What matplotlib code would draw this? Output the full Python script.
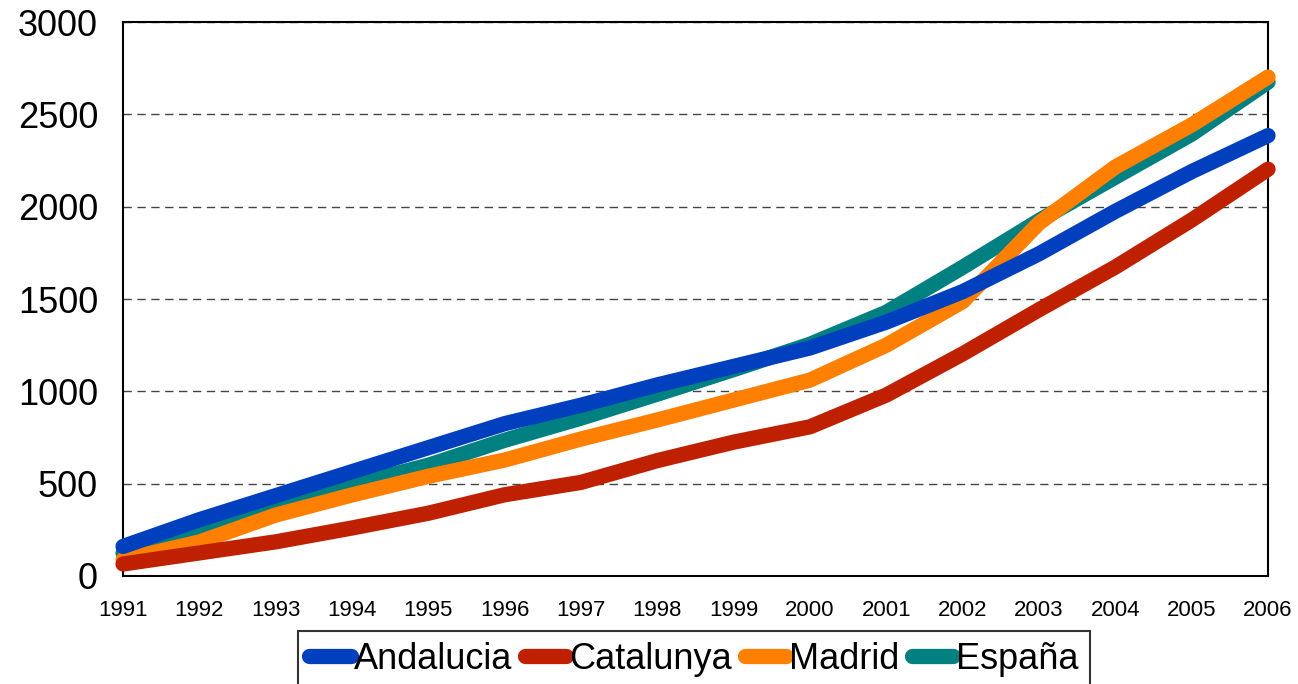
import matplotlib
matplotlib.use('Agg')
import matplotlib.pyplot as plt

plt.rcParams['font.family'] = ['Liberation Sans', 'DejaVu Sans']

# Data
years = [1991, 1992, 1993, 1994, 1995, 1996, 1997, 1998,
         1999, 2000, 2001, 2002, 2003, 2004, 2005, 2006]
andalucia = [160, 305, 435, 565, 695, 825, 925, 1035,
             1135, 1235, 1375, 1540, 1745, 1975, 2190, 2385]
catalunya = [65, 125, 185, 260, 340, 440, 507, 625,
             725, 808, 980, 1203, 1442, 1673, 1928, 2203]
madrid = [88, 184, 330, 439, 540, 628, 742, 845,
          953, 1061, 1250, 1486, 1911, 2215, 2443, 2702]
espana = [124, 238, 374, 493, 600, 735, 855, 985,
          1118, 1255, 1428, 1672, 1925, 2160, 2393, 2675]

series = [
    ('Andalucia', andalucia, '#0040BF'),
    ('Catalunya', catalunya, '#BF2000'),
    ('Madrid', madrid, '#FF8000'),
    ('España', espana, '#008080'),
]

fig = plt.figure(figsize=(12.98, 6.84), dpi=100)
ax = fig.add_axes([0.0948, 0.1579, 0.9769 - 0.0948, 0.9678 - 0.1579])

# draw order: Espana under the others, blue on top
order = [3, 2, 1, 0]
for i in order:
    name, vals, col = series[i]
    ax.plot(years, vals, color=col, lw=11, solid_capstyle='round',
            solid_joinstyle='round', clip_on=False, zorder=3 + (3 - i) * 0.1,
            label=name)

ax.set_xlim(years[0], years[-1])
ax.set_ylim(0, 3000)
ax.set_yticks(range(0, 3001, 500))
ax.set_xticks(years)
ax.set_xticklabels([str(y) for y in years], fontsize=16)
ax.tick_params(axis='y', labelsize=26, length=0, pad=18)
ax.tick_params(axis='x', length=0, pad=17)

ax.yaxis.grid(True, linestyle=(0, (6, 4)), color='#444444', lw=1)
ax.set_axisbelow(True)
for s in ax.spines.values():
    s.set_linewidth(1.5)
    s.set_color('black')

handles, labels = ax.get_legend_handles_labels()
lookup = dict(zip(labels, handles))
names = [s[0] for s in series]
leg = fig.legend([lookup[n] for n in names], names, loc='center',
                 bbox_to_anchor=(0.5347, 0.036), ncol=4, fontsize=26,
                 frameon=True, fancybox=False, edgecolor='black',
                 handlelength=1.15, handletextpad=0.08, columnspacing=0.35,
                 borderpad=0.3, borderaxespad=0)
leg.get_frame().set_linewidth(1.5)

fig.savefig('out.png', dpi=100)
